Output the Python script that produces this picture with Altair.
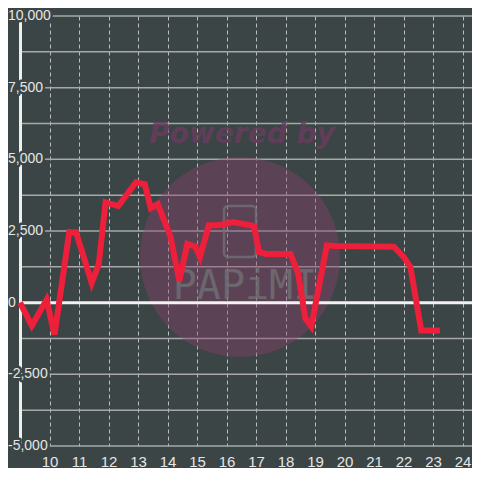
import altair as alt
import pandas as pd

# ---- data ----
hours = [9.0, 9.4, 9.9, 10.17, 10.67, 10.9, 11.43, 11.67, 11.9, 12.33, 12.93, 13.23,
         13.43, 13.67, 14.1, 14.4, 14.67, 14.95, 15.1, 15.4, 15.73, 16.23, 16.93,
         17.1, 17.33, 18.17, 18.43, 18.67, 18.87, 19.4, 19.67, 21.67, 22.0, 22.23,
         22.6, 23.23]
values = [0, -800, 100, -1110, 2460, 2450, 690, 1350, 3500, 3370, 4200, 4130,
          3300, 3440, 2300, 760, 2050, 1950, 1600, 2700, 2700, 2810, 2670,
          1770, 1700, 1700, 1000, -550, -830, 2000, 1980, 1950, 1600, 1250,
          -970, -970]

x_ticks = list(range(10, 25))
y_label_values = [-5000, -2500, 0, 2500, 5000, 7500, 10000]
y_label_texts = ["-5,000", "-2,500", "0", "2,500", "5,000", "7,500", "10,000"]
grid_values = [-5000, -3750, -2500, -1250, 1250, 2500, 3750, 5000, 6250, 7500, 8750, 10000]

BG = "#3b4545"
W, H = 452, 430
x_scale = alt.Scale(domain=[9, 24.32], nice=False, zero=False)
y_scale = alt.Scale(domain=[-5000, 10000], nice=False, zero=False)

line_df = pd.DataFrame({"h": hours, "v": values})
grid_df = pd.DataFrame({"v": grid_values})
lab_df = pd.DataFrame({"v": y_label_values, "t": y_label_texts})
one = pd.DataFrame({"a": [0]})
zero_df = pd.DataFrame({"v": [0]})

grid = alt.Chart(grid_df).mark_rule(color="#a8a8a8", strokeWidth=1.5).encode(
    y=alt.Y("v:Q", scale=y_scale, axis=None),
    x=alt.value(0), x2=alt.value(W))

circle = alt.Chart(one).mark_circle(size=40000, color="#8b426d", opacity=0.4).encode(
    x=alt.value(220), y=alt.value(241))

powered = alt.Chart(one).mark_text(text="Powered by", font="DejaVu Sans", fontSize=28,
                                    fontWeight="bold", fontStyle="italic", color="#6a3d5e",
                                    opacity=0.8, baseline="alphabetic", align="center").encode(
    x=alt.value(222), y=alt.value(127))

phone = alt.Chart(one).mark_rect(fill=None, filled=False, stroke="#707074", strokeWidth=2.5,
                                 cornerRadius=4, opacity=0.8).encode(
    x=alt.value(204), x2=alt.value(236), y=alt.value(190), y2=alt.value(241))

papimi = alt.Chart(one).mark_text(text="PAPiMI", font="DejaVu Sans Mono", fontSize=40,
                                  color="#707074", opacity=0.8, baseline="alphabetic",
                                  align="center").encode(
    x=alt.value(225), y=alt.value(283))

zero = alt.Chart(zero_df).mark_rule(color="#f2f2f2", strokeWidth=3).encode(
    y=alt.Y("v:Q", scale=y_scale, axis=None),
    x=alt.value(0), x2=alt.value(W))

yline = alt.Chart(one).mark_rule(color="#eef0ee", strokeWidth=3).encode(
    x=alt.value(0.5), y=alt.value(0), y2=alt.value(H))

halo = alt.Chart(lab_df).mark_text(align="left", baseline="middle", fontSize=14,
                                   font="Liberation Sans", stroke=BG, strokeWidth=5,
                                   strokeJoin="round", fill=BG).encode(
    y=alt.Y("v:Q", scale=y_scale, axis=None), x=alt.value(-12), text="t:N")

labels = alt.Chart(lab_df).mark_text(align="left", baseline="middle", fontSize=14,
                                     font="Liberation Sans", color="#e6e6e6").encode(
    y=alt.Y("v:Q", scale=y_scale, axis=None), x=alt.value(-12), text="t:N")

line = alt.Chart(line_df).mark_line(color="#ee1f3b", strokeWidth=6, strokeJoin="miter",
                                    strokeCap="butt").encode(
    x=alt.X("h:Q", scale=x_scale,
            axis=alt.Axis(values=x_ticks, title=None, grid=True, gridDash=[4, 3],
                          gridColor="#bdbdbd", gridWidth=1, domain=False, ticks=False,
                          tickSize=0, labelPadding=8, labelFontSize=15,
                          labelFont="Liberation Sans", labelColor="#e6e6e6",
                          labelFlush=False)),
    y=alt.Y("v:Q", scale=y_scale, axis=None))

chart = alt.layer(grid, circle, powered, phone, papimi, zero, yline, halo, labels, line).properties(
    width=W, height=H,
    autosize=alt.AutoSizeParams(type="none"),
    padding={"left": 12, "top": 8, "right": 0, "bottom": 22},
    background=BG,
).configure_view(stroke=None)

chart.save("out.html", embed_options={"renderer": "svg", "actions": False})
